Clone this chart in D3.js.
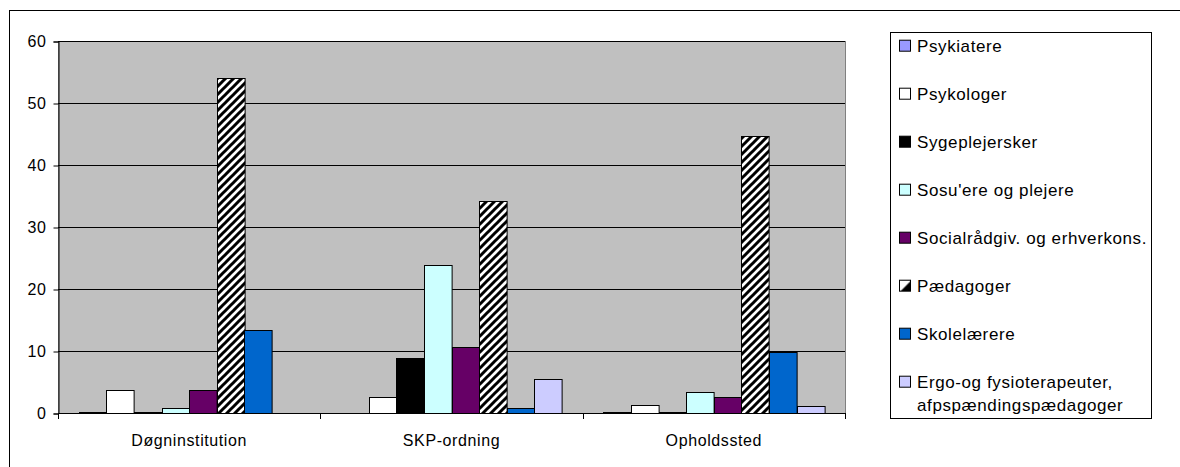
<!DOCTYPE html>
<html>
<head>
<meta charset="utf-8">
<script src="https://cdn.jsdelivr.net/npm/d3@7"></script>
<style>
  html, body { margin: 0; padding: 0; background: #fff; }
  svg { display: block; font-family: "Liberation Sans", Arial, sans-serif; }
  text { letter-spacing: 0.6px; }
</style>
</head>
<body>
<svg id="chart" width="1180" height="467"></svg>
<script>
const categories = ["Døgninstitution", "SKP-ordning", "Opholdssted"];
const seriesNames = [
  "Psykiatere",
  "Psykologer",
  "Sygeplejersker",
  "Sosu'ere og plejere",
  "Socialrådgiv. og erhverkons.",
  "Pædagoger",
  "Skolelærere",
  "Ergo-og fysioterapeuter, afpspændingspædagoger"
];
const legendLines = [
  ["Psykiatere"],
  ["Psykologer"],
  ["Sygeplejersker"],
  ["Sosu'ere og plejere"],
  ["Socialrådgiv. og erhverkons."],
  ["Pædagoger"],
  ["Skolelærere"],
  ["Ergo-og fysioterapeuter,", "afpspændingspædagoger"]
];
// values per series, in category order
const psykiatere      = [0.2, 0,    0.2];
const psykologer      = [3.65, 2.6, 1.24];
const sygeplejersker  = [0.2, 8.9,  0.2];
const sosu            = [0.8, 23.8, 3.45];
const socialraadgiv   = [3.65, 10.6, 2.65];
const paedagoger      = [54.1, 34.2, 44.7];
const skolelaerere    = [13.4, 0.75, 9.85];
const ergo            = [0,   5.5,  1.2];
const yTicks = [0, 10, 20, 30, 40, 50, 60];

const seriesValues = [psykiatere, psykologer, sygeplejersker, sosu, socialraadgiv, paedagoger, skolelaerere, ergo];
const seriesFills = ["#9999FF", "#FFFFFF", "#000000", "#CCFFFF", "#660066", "url(#hatch)", "#0066CC", "#CCCCFF"];

const svg = d3.select("#chart");
const defs = svg.append("defs");
const hatch = defs.append("pattern")
  .attr("id", "hatch").attr("patternUnits", "userSpaceOnUse")
  .attr("width", 8).attr("height", 8);
hatch.append("rect").attr("width", 8).attr("height", 8).attr("fill", "#fff");
hatch.append("path").attr("d", "M-2,2 L2,-2 M0,8 L8,0 M6,10 L10,6")
  .attr("stroke", "#000").attr("stroke-width", 3);
const sw = defs.append("pattern")
  .attr("id", "hatchSwatch").attr("patternUnits", "objectBoundingBox")
  .attr("patternContentUnits", "objectBoundingBox")
  .attr("width", 1).attr("height", 1);
sw.append("rect").attr("width", 1).attr("height", 1).attr("fill", "#fff");
sw.append("polygon").attr("points", "1,0.1 1,1 0.1,1").attr("fill", "#000");

// outer chart border
svg.append("rect").attr("x", 9.5).attr("y", 10.5).attr("width", 1300).attr("height", 600)
  .attr("fill", "#fff").attr("stroke", "#000").attr("stroke-width", 1);

const plot = { left: 58, right: 845, top: 41, bottom: 413 };

const x0 = d3.scaleBand().domain(categories).range([plot.left, plot.right]).padding(0);
const x1 = d3.scaleBand().domain(d3.range(seriesNames.length)).range([0, x0.bandwidth()])
  .paddingInner(0).paddingOuter(0.75);
const y = d3.scaleLinear().domain([0, 60]).range([plot.bottom, plot.top]);

// plot background
svg.append("rect").attr("x", plot.left).attr("y", plot.top)
  .attr("width", plot.right - plot.left).attr("height", plot.bottom - plot.top)
  .attr("fill", "#C0C0C0").attr("stroke", "#808080").attr("stroke-width", 1)
  .attr("shape-rendering", "crispEdges");

// gridlines
svg.append("g").selectAll("line").data(yTicks.filter(d => d > 0)).join("line")
  .attr("x1", plot.left).attr("x2", plot.right)
  .attr("y1", d => Math.round(y(d)) + 0.5).attr("y2", d => Math.round(y(d)) + 0.5)
  .attr("stroke", "#000").attr("stroke-width", 1);

// bars
const flat = [];
categories.forEach((c, ci) => {
  seriesValues.forEach((vals, si) => {
    if (vals[ci] > 0) flat.push({ c, si, v: vals[ci] });
  });
});
svg.append("g").selectAll("rect").data(flat).join("rect")
  .attr("x", d => Math.round(x0(d.c) + x1(d.si)) + 0.5)
  .attr("y", d => Math.round(y(d.v)) + 0.5)
  .attr("width", x1.bandwidth())
  .attr("height", d => Math.max(0, Math.round(y(0)) - Math.round(y(d.v))))
  .attr("fill", d => seriesFills[d.si])
  .attr("stroke", "#000").attr("stroke-width", 1);

// y axis
const yAxis = d3.axisLeft(y).tickValues(yTicks).tickSize(5).tickPadding(7).tickFormat(d3.format("d"));
const gy = svg.append("g").attr("transform", `translate(${plot.left + 0.5},0.5)`).call(yAxis);
gy.selectAll("text").attr("font-size", 16).attr("fill", "#000").style("font-family", "Liberation Sans, Arial, sans-serif");
gy.selectAll("line, path").attr("stroke", "#000");

// x axis
const xAxis = d3.axisBottom(x0).tickSize(0).tickPadding(21);
const gx = svg.append("g").attr("transform", `translate(0,${plot.bottom + 0.5})`).call(xAxis);
gx.select("path.domain").remove();
gx.selectAll("text").attr("font-size", 16).attr("fill", "#000").style("font-family", "Liberation Sans, Arial, sans-serif");
svg.append("line").attr("x1", plot.left).attr("x2", plot.right)
  .attr("y1", plot.bottom + 0.5).attr("y2", plot.bottom + 0.5).attr("stroke", "#000");
const boundaries = categories.map(c => x0(c)).concat([x0.range()[1]]);
svg.append("g").selectAll("line").data(boundaries).join("line")
  .attr("x1", d => Math.round(d) + 0.5).attr("x2", d => Math.round(d) + 0.5)
  .attr("y1", plot.bottom).attr("y2", plot.bottom + 6).attr("stroke", "#000");

// legend
const lg = svg.append("g");
lg.append("rect").attr("x", 890.5).attr("y", 32.5).attr("width", 261).attr("height", 386)
  .attr("fill", "#fff").attr("stroke", "#000").attr("stroke-width", 1);
const items = lg.selectAll("g.item").data(legendLines).join("g").attr("class", "item")
  .attr("transform", (d, i) => `translate(0,${45.7 + i * 48})`);
items.append("rect").attr("x", 899.5).attr("y", -5.5).attr("width", 11).attr("height", 11)
  .attr("fill", (d, i) => i === 5 ? "url(#hatchSwatch)" : seriesFills[i])
  .attr("stroke", "#000").attr("stroke-width", 1);
items.each(function(lines) {
  const t = d3.select(this).append("text").attr("x", 917).attr("y", 0)
    .attr("font-size", 17).attr("fill", "#000");
  lines.forEach((ln, k) => {
    t.append("tspan").attr("x", 917).attr("dy", k === 0 ? "0.36em" : "23.3").text(ln);
  });
});
</script>
</body>
</html>
